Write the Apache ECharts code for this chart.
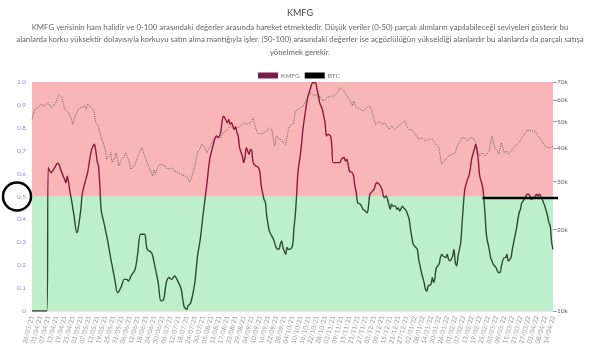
<!DOCTYPE html>
<html><head><meta charset="utf-8">
<script src="https://cdn.jsdelivr.net/npm/echarts@6/dist/echarts.min.js"></script>
<style>html,body{margin:0;padding:0;background:#fff}#c{width:600px;height:351px}</style>
</head><body><div id="c"></div>
<script>
// ---- data ----
const startDate = '2021-03-26';
const dayCount = 385; // 26/03/21 .. 14/04/22, daily
const kmfgDays = [0,11,12,14,16,19,20,21,23,24,25,26,27,28,29,31,33,34,36,37,39,41,43,44,45,46,47,48,49,50,51,53,55,56,58,59,61,63,64,66,68,70,71,73,76,78,80,83,84,85,88,89,90,93,95,97,99,101,103,105,108,110,112,114,115,117,120,122,124,126,129,131,134,135,136,137,139,140,141,142,144,145,146,147,149,150,151,152,153,155,156,157,158,160,161,162,163,165,167,168,169,171,172,173,175,178,180,182,183,184,185,187,188,189,190,192,193,194,195,196,198,200,203,205,207,209,210,211,212,214,215,216,217,218,220,221,222,225,227,228,230,231,232,233,234,236,237,238,239,240,242,244,245,247,248,249,250,252,254,256,258,259,260,261,263,264,265,266,268,269,270,271,273,274,275,276,278,279,280,281,282,284,285,286,287,289,290,291,292,294,295,296,297,298,300,301,302,303,305,306,307,308,310,311,312,313,314,316,317,318,319,321,322,323,324,326,327,328,329,330,332,333,334,335,337,338,339,340,342,343,344,345,346,348,349,350,351,353,354,355,356,357,359,360,361,362,364,365,366,367,368,370,371,372,373,374,376,377,378,380,381,382,383,384];
const kmfgValues = [0,0,0.626,0.604,0.619,0.645,0.64,0.62,0.589,0.575,0.56,0.589,0.56,0.52,0.49,0.415,0.342,0.36,0.444,0.51,0.56,0.604,0.68,0.706,0.72,0.728,0.70,0.655,0.633,0.55,0.44,0.386,0.33,0.299,0.23,0.20,0.138,0.08,0.085,0.109,0.138,0.138,0.13,0.153,0.182,0.255,0.335,0.335,0.30,0.269,0.255,0.24,0.211,0.124,0.044,0.05,0.124,0.146,0.138,0.153,0.124,0.095,0.022,0.007,0.022,0.036,0.124,0.24,0.313,0.415,0.56,0.662,0.735,0.757,0.764,0.757,0.779,0.822,0.851,0.844,0.822,0.837,0.815,0.822,0.793,0.805,0.78,0.764,0.713,0.677,0.648,0.67,0.713,0.684,0.706,0.70,0.648,0.633,0.626,0.604,0.546,0.488,0.475,0.415,0.349,0.313,0.277,0.269,0.291,0.306,0.277,0.248,0.277,0.269,0.269,0.284,0.357,0.415,0.502,0.604,0.692,0.808,0.925,0.968,0.997,0.997,0.968,0.946,0.91,0.88,0.851,0.822,0.764,0.771,0.764,0.72,0.648,0.648,0.648,0.662,0.67,0.655,0.662,0.64,0.611,0.604,0.589,0.546,0.517,0.473,0.466,0.444,0.44,0.429,0.458,0.51,0.517,0.531,0.56,0.553,0.531,0.502,0.495,0.502,0.466,0.444,0.466,0.458,0.458,0.444,0.45,0.436,0.458,0.45,0.444,0.436,0.40,0.357,0.32,0.291,0.284,0.269,0.226,0.197,0.168,0.124,0.095,0.087,0.109,0.116,0.146,0.124,0.146,0.189,0.204,0.233,0.248,0.24,0.233,0.248,0.226,0.219,0.24,0.269,0.211,0.197,0.24,0.299,0.386,0.466,0.531,0.575,0.589,0.619,0.662,0.706,0.728,0.699,0.655,0.589,0.546,0.495,0.415,0.328,0.269,0.233,0.219,0.204,0.189,0.175,0.168,0.168,0.197,0.233,0.233,0.248,0.219,0.233,0.269,0.299,0.328,0.357,0.429,0.444,0.473,0.48,0.502,0.51,0.51,0.502,0.488,0.495,0.502,0.51,0.502,0.51,0.488,0.473,0.458,0.415,0.386,0.371,0.30,0.269];
const btcDays = [0,2,4,7,9,12,14,17,19,20,22,23,24,25,27,29,30,31,33,34,36,39,40,41,44,45,46,47,49,50,51,52,54,55,56,57,58,59,61,62,63,64,66,68,69,71,72,73,76,78,81,82,83,85,86,87,88,89,90,91,93,95,98,100,103,105,108,110,113,115,116,118,120,122,124,125,126,127,129,131,134,136,139,141,144,146,149,151,154,156,158,161,163,164,166,168,171,173,175,177,178,179,180,183,185,187,188,189,190,193,194,195,198,200,201,203,205,206,208,210,211,212,215,217,220,222,225,227,230,232,234,236,237,239,242,244,247,249,250,252,253,254,256,258,260,263,265,268,270,273,275,276,278,280,282,285,287,290,292,295,297,300,301,302,305,307,310,312,313,315,317,319,321,323,324,325,327,328,329,330,332,334,337,338,339,340,341,343,344,345,346,348,349,350,351,354,356,359,361,364,365,366,369,371,373,376,377,378,380,381,382,384];
const btcValues = [51000,55500,56300,57900,57100,58700,56300,57900,61300,63100,61300,58700,55500,54700,53900,51000,48800,51000,53900,55500,56300,57100,55500,57900,56300,57100,53900,49500,48200,45500,43600,42400,39500,36300,36800,37300,38400,35300,36800,38400,36300,34300,36300,37300,38400,36300,34800,33300,34800,37300,40100,39500,37300,35300,34800,33300,33800,31500,33300,31900,34300,34800,34300,33300,33800,32900,32400,31900,31500,31000,29900,31500,34300,38400,39800,41200,41000,40600,38400,40100,43000,44200,43600,45500,46700,48200,46700,47400,48200,49500,48800,49500,51700,49000,45500,44900,45500,46100,47400,46500,42400,40600,44200,43000,41800,41200,41800,46700,48200,49500,54700,55500,56300,57100,58700,61300,63900,64800,62400,63100,60500,62100,59500,61300,62100,62100,63900,66600,64800,62100,60500,57100,59500,56300,55500,54700,56300,57100,55500,51700,48800,49500,50200,48800,49500,46700,48200,46700,48200,49500,50200,48200,46700,46700,45500,43000,43600,42400,43000,43000,41800,40100,36800,34800,36300,37300,37900,38400,40100,41800,43600,43600,42400,43600,44200,43600,41800,40100,38400,37300,38400,37300,38900,41800,44200,43600,40100,38900,37900,38400,41800,38400,37900,38900,37900,39500,40600,41800,43600,45500,46700,47000,46100,46100,44200,42400,41200,40600,40100,40600,40100,40600];
const rightTicks = [10000,20000,30000,40000,50000,60000,70000];
const titleText = 'KMFG';
const subText = [
  'KMFG verisinin ham halidir ve 0-100 arasındaki değerler arasında hareket etmektedir. Düşük veriler (0-50) parçalı alımların yapılabileceği seviyeleri gösterir bu',
  'alanlarda korku yüksektir dolayısıyla korkuyu satın alma mantığıyla işler. (50-100) arasındaki değerler ise açgözlülüğün yükseldiği alanlardır bu alanlarda da parçalı satışa',
  'yönelmek gerekir.'
];

// ---- categories ----
const categories = [];
{
  const d0 = new Date(startDate + 'T00:00:00Z');
  for (let i = 0; i < dayCount; i++) {
    const d = new Date(d0.getTime() + i * 86400000);
    const dd = String(d.getUTCDate()).padStart(2, '0');
    const mm = String(d.getUTCMonth() + 1).padStart(2, '0');
    const yy = String(d.getUTCFullYear()).slice(2);
    categories.push(dd + '/' + mm + '/' + yy);
  }
}

const FONT = 'Lato';
const HIGH = '#8c1a40', LOW = '#2e4a35';
const chart = echarts.init(document.getElementById('c'));
chart.setOption({
  animation: false,
  textStyle: { fontFamily: FONT },
  title: { text: titleText, left: 'center', top: 4, textStyle: { fontSize: 9, fontWeight: 'normal', color: '#444', fontFamily: FONT } },
  legend: {
    left: 253, top: 67, itemWidth: 20, itemHeight: 6, itemGap: 5, icon: 'rect',
    textStyle: { fontSize: 6.5, color: '#777', padding: [0, 0, 0, -2] },
    data: [
      { name: 'KMFG', itemStyle: { color: '#7b1d4b', borderWidth: 0 } },
      { name: 'BTC', itemStyle: { color: '#000', borderWidth: 0 } }
    ]
  },
  grid: { left: 32, right: 47, top: 82, bottom: 40, containLabel: false },
  xAxis: {
    type: 'category', data: categories, boundaryGap: false,
    axisLine: { show: false }, axisTick: { show: false },
    axisLabel: { interval: 5, rotate: 75, fontSize: 6.5, color: '#999', margin: 5 },
    splitLine: { show: false }
  },
  yAxis: [{
    type: 'value', min: 0, max: 1, interval: 0.1, position: 'left',
    axisLine: { show: false }, axisTick: { show: false },
    axisLabel: { fontSize: 6.5, color: '#9d88dc', margin: 6, formatter: v => v === 0 ? '0' : v.toFixed(1) },
    splitLine: { lineStyle: { color: 'rgba(150,80,80,0.15)', width: 1 } }
  }, {
    type: 'log', min: 10000, max: 70000, position: 'right', logBase: 10,
    axisLine: { show: false },
    axisTick: { show: true, customValues: rightTicks, length: 4, lineStyle: { color: '#999' } },
    axisLabel: { customValues: rightTicks, fontSize: 6.5, color: '#666', margin: 4, formatter: v => Math.round(v / 1000) + 'k' },
    splitLine: { show: false }
  }],
  series: [{
    name: 'KMFG', type: 'line', yAxisIndex: 0, showSymbol: false, smooth: 0.3,
    data: kmfgDays.map((d, i) => [d, kmfgValues[i]]),
    itemStyle: { color: '#7b1d4b' },
    lineStyle: { width: 1.4, color: HIGH },
    z: 5,
    markArea: {
      silent: true,
      data: [
        [{ yAxis: 0.5, itemStyle: { color: '#f8b6b6' } }, { yAxis: 1 }],
        [{ yAxis: 0, itemStyle: { color: '#bdefcb' } }, { yAxis: 0.5 }]
      ]
    }
  }, {
    name: 'BTC', type: 'line', yAxisIndex: 1, showSymbol: false,
    data: btcDays.map((d, i) => [d, btcValues[i]]),
    itemStyle: { color: '#000' },
    lineStyle: { color: '#555', width: 0.9, type: [1, 1.2] },
    z: 4
  }]
});

// two-tone KMFG line split at the 0.5 level, plus annotations
const yTop = chart.convertToPixel({ yAxisIndex: 0 }, 1);
const yBot = chart.convertToPixel({ yAxisIndex: 0 }, 0);
const y05 = chart.convertToPixel({ yAxisIndex: 0 }, 0.5);
const yLine = chart.convertToPixel({ yAxisIndex: 0 }, 0.493);
const xLine = chart.convertToPixel({ xAxisIndex: 0 }, 332);
const off = (y05 - yTop) / (yBot - yTop);
chart.setOption({
  series: [{
    name: 'KMFG',
    lineStyle: {
      color: new echarts.graphic.LinearGradient(0, yTop, 0, yBot, [
        { offset: 0, color: HIGH }, { offset: off, color: HIGH },
        { offset: off, color: LOW }, { offset: 1, color: LOW }
      ], true)
    }
  }],
  graphic: [
    { id: 'sub', type: 'text', x: 300, y: 21,
      style: { text: subText.join('\n'), align: 'center', verticalAlign: 'top', fontSize: 7.8, lineHeight: 12.5, fill: '#666', fontFamily: FONT } },
    { id: 'circ', type: 'circle', shape: { cx: 17, cy: y05, r: 14 }, style: { fill: 'none', stroke: '#000', lineWidth: 2.5 }, z: 100 },
    { id: 'hl', type: 'line', shape: { x1: xLine, y1: yLine, x2: 558, y2: yLine }, style: { stroke: '#000', lineWidth: 2.5 }, z: 100 }
  ]
});
</script></body></html>
